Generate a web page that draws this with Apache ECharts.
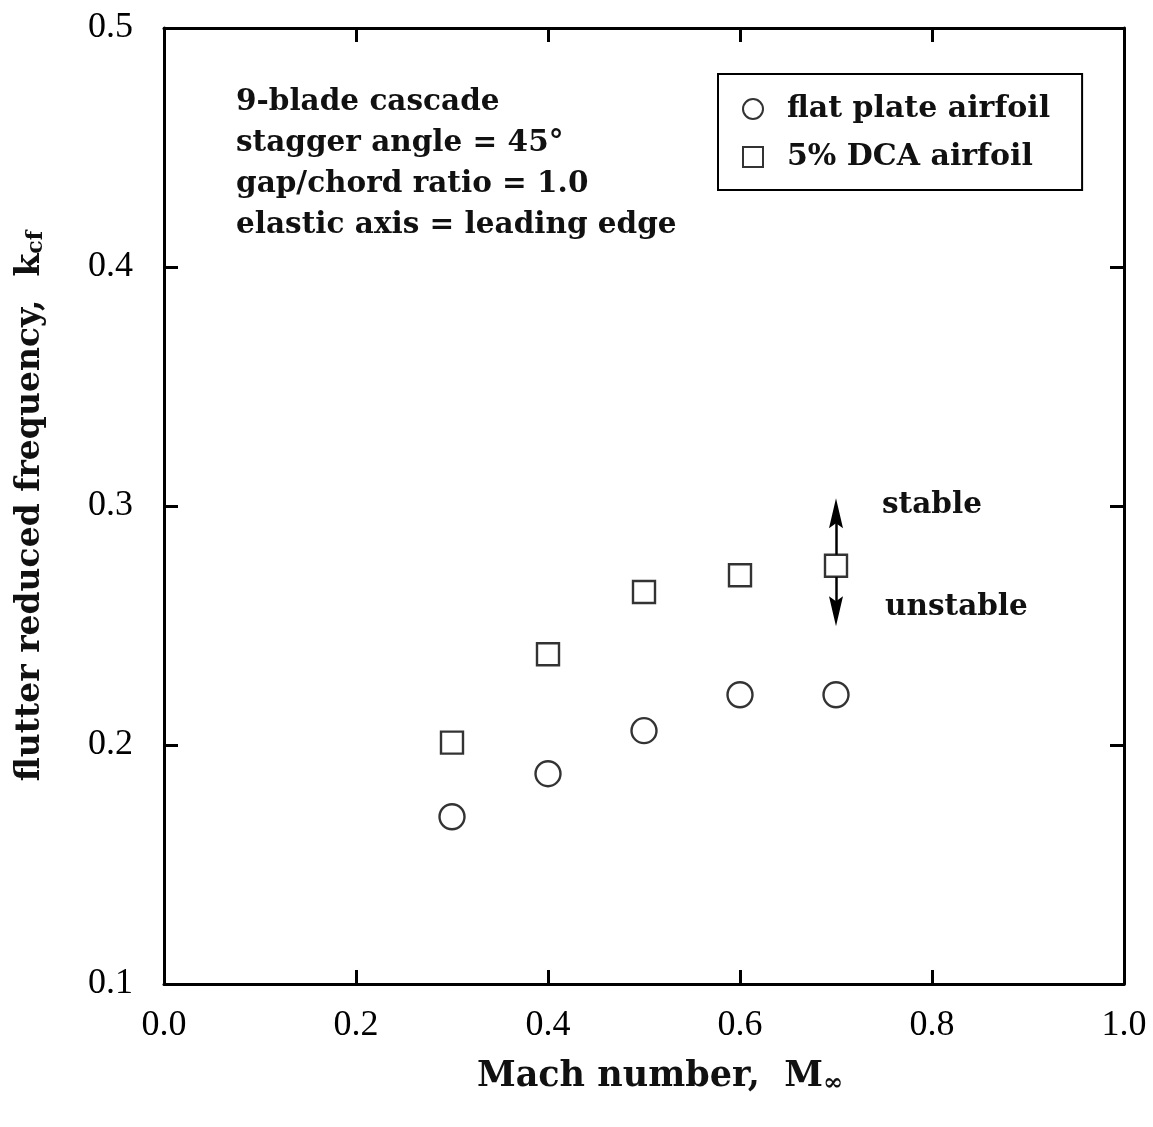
<!DOCTYPE html>
<html><head><meta charset="utf-8">
<script src="https://cdn.jsdelivr.net/npm/echarts@6/dist/echarts.min.js"></script>
<style>html,body{margin:0;padding:0;background:#fff}#c{width:1153px;height:1127px}</style>
</head><body><div id="c"></div>
<script>
const mach = [0.3, 0.4, 0.5, 0.6, 0.7];
const flatPlate = [0.170, 0.188, 0.206, 0.221, 0.221];
const dca5 = [0.201, 0.238, 0.264, 0.271, 0.275];
const xTicks = [0.0, 0.2, 0.4, 0.6, 0.8, 1.0];
const yTicks = [0.1, 0.2, 0.3, 0.4, 0.5];
const seriesNames = ['flat plate airfoil', '5% DCA airfoil'];
const noteLines = ['9-blade cascade', 'stagger angle = 45°', 'gap/chord ratio = 1.0', 'elastic axis = leading edge'];
const arrowUpEnd = 0.297, arrowDownEnd = 0.256;

const serif = '"DejaVu Serif", serif';
const times = '"Liberation Serif", "Times New Roman", serif';
const chart = echarts.init(document.getElementById('c'));
const axisLine = {show: true, onZero: false, lineStyle: {color: '#000', width: 3}};
const tick = {show: true, inside: true, length: 14, lineStyle: {color: '#000', width: 3}};
chart.setOption({
  animation: false,
  backgroundColor: '#fff',
  grid: {left: 164, right: 29, top: 28, bottom: 143},
  legend: {
    orient: 'vertical', left: 718, top: 74, width: 363,
    padding: [20, 32, 18, 24], itemGap: 18,
    borderColor: '#000', borderWidth: 2,
    itemWidth: 20, itemHeight: 20,
    data: [{name: seriesNames[0], icon: 'circle'}, {name: seriesNames[1], icon: 'rect'}],
    textStyle: {fontFamily: serif, fontSize: 30, fontWeight: 'bold', color: '#111', padding: [0, 0, 0, 19]}
  },
  xAxis: [
    {
      type: 'value', position: 'bottom', min: xTicks[0], max: xTicks[xTicks.length - 1], interval: 0.2,
      axisLine, axisTick: tick, splitLine: {show: false},
      axisLabel: {show: true, margin: 24, fontFamily: times, fontSize: 36, color: '#000',
        formatter: v => v.toFixed(1)},
      name: 'Mach number,  M{sub|∞}', nameLocation: 'middle', nameGap: 74,
      nameTextStyle: {fontFamily: serif, fontSize: 35, fontWeight: 'bold', color: '#111', padding: [0, 0, 0, 32],
        rich: {sub: {fontFamily: serif, fontSize: 24, fontWeight: 'bold', padding: [14, 0, 0, 0]}}}
    },
    {
      type: 'value', position: 'top', min: xTicks[0], max: xTicks[xTicks.length - 1], interval: 0.2,
      axisLine, axisTick: tick, splitLine: {show: false}, axisLabel: {show: false}
    }
  ],
  yAxis: [
    {
      type: 'value', position: 'left', min: yTicks[0], max: yTicks[yTicks.length - 1], interval: 0.1,
      axisLine, axisTick: tick, splitLine: {show: false},
      axisLabel: {show: true, margin: 31, fontFamily: times, fontSize: 36, color: '#000',
        formatter: v => v.toFixed(1)},
      name: 'flutter reduced frequency,  k{sub|cf}', nameLocation: 'middle', nameGap: 117, nameRotate: 90,
      nameTextStyle: {fontFamily: serif, fontSize: 33, fontWeight: 'bold', color: '#111',
        rich: {sub: {fontFamily: serif, fontSize: 22, fontWeight: 'bold', padding: [12, 0, 0, 0]}}}
    },
    {
      type: 'value', position: 'right', min: yTicks[0], max: yTicks[yTicks.length - 1], interval: 0.1,
      axisLine, axisTick: tick, splitLine: {show: false}, axisLabel: {show: false}
    }
  ],
  series: [
    {
      name: seriesNames[0], type: 'scatter', symbol: 'circle', symbolSize: 25,
      itemStyle: {color: '#fff', borderColor: '#000', borderWidth: 2.4},
      data: mach.map((m, i) => [m, flatPlate[i]]), z: 5
    },
    {
      name: seriesNames[1], type: 'scatter', symbol: 'rect', symbolSize: 22,
      itemStyle: {color: '#fff', borderColor: '#000', borderWidth: 2.4},
      data: mach.map((m, i) => [m, dca5[i]]), z: 5,
      markLine: {
        silent: true, symbol: ['none', 'path://M7,0 L14,30 L7,25 L0,30 Z'], symbolSize: 30,
        symbolKeepAspect: true,
        lineStyle: {color: '#000', width: 2.5, type: 'solid'},
        itemStyle: {color: '#000'},
        label: {show: false},
        data: [
          [{coord: [mach[4], dca5[4] + 0.0046]}, {coord: [mach[4], arrowUpEnd]}],
          [{coord: [mach[4], dca5[4] - 0.0046]}, {coord: [mach[4], arrowDownEnd]}]
        ]
      }
    }
  ],
  graphic: [
    {type: 'text', left: 236, top: 82, style: {text: noteLines.join('\n'), font: 'bold 29.5px ' + serif, lineHeight: 41, fill: '#111'}},
    {type: 'text', left: 882, top: 490, style: {text: 'stable', font: 'bold 29.5px ' + serif, fill: '#111'}},
    {type: 'text', left: 885, top: 592, style: {text: 'unstable', font: 'bold 29.5px ' + serif, fill: '#111'}}
  ]
});
</script></body></html>
